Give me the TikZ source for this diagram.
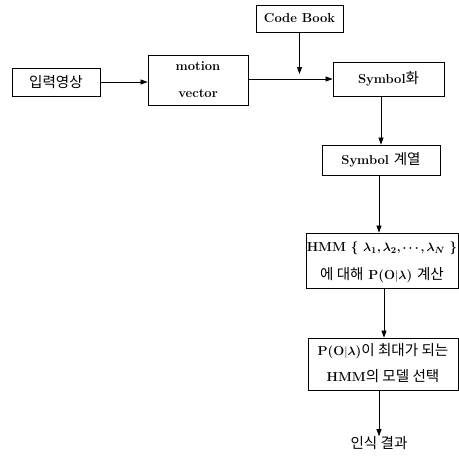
\documentclass[tikz,border=0pt]{standalone}
\usepackage{bm}
\usepackage{fontspec}
\newfontfamily\krfont{Noto Sans CJK KR}[Scale=1.12]
\newcommand{\kr}{\krfont\mdseries}
\usetikzlibrary{arrows.meta}
\begin{document}
\begin{tikzpicture}[x=1pt,y=-1pt,
  box/.style={draw, line width=0.8pt, inner sep=0pt},
  lbl/.style={inner sep=0pt, font=\fontsize{13}{15}\selectfont\bfseries},
  arr/.style={-{Triangle[length=7pt,width=5pt]}, line width=0.7pt}]
\useasboundingbox (0,0) rectangle (459,458);
% boxes
\node[box, minimum width=88, minimum height=28] (in) at (56,82) {};
\node[lbl] (inT) at (in.center) {\kr 입력영상};
\node[box, minimum width=100, minimum height=50] (mv) at (198,80) {};
\node[lbl] (mvA) at (198,66) {motion};
\node[lbl] (mvB) at (198,93) {vector};
\node[box, minimum width=87, minimum height=27] (cb) at (299.5,18.5) {};
\node[lbl] (cbT) at (cb.center) {Code Book};
\node[box, minimum width=111, minimum height=34] (sym) at (388.5,79) {};
\node[lbl] (symT) at (sym.center) {Symbol{\kr 화}};
\node[box, minimum width=118, minimum height=30] (seq) at (381,160) {};
\node[lbl] (seqT) at (seq.center) {Symbol {\kr 계열}};
\node[box, minimum width=152, minimum height=55] (hmm) at (382,260.5) {};
\node[lbl] (hmmA) at (382,248) {HMM \{ $\bm{\lambda_1,\lambda_2,\cdots,\lambda_N}$ \}};
\node[lbl] (hmmB) at (382,275) {{\kr 에 대해} P(O$|\bm{\lambda}$) {\kr 계산}};
\node[box, minimum width=150, minimum height=52] (sel) at (383,364) {};
\node[lbl] (selA) at (383,351) {P(O$|\bm{\lambda}$){\kr 이 최대가 되는}};
\node[lbl] (selB) at (383,376) {HMM{\kr 의 모델 선택}};
\node[lbl] (res) at (379,443) {\kr 인식 결과};
% junction for code book
\coordinate (j) at (cb.south |- 0,74);
% connectors
\draw[arr] (in.east) -- (mv.west |- in.east);
\draw[arr] (mv.east |- sym.west) -- (sym.west);
\draw[arr] (cb.south) -- (j);
\draw[arr] (sym.south -| seq.north) -- (seq.north);
\draw[arr] (seq.south -| 379,0) -- (hmm.north -| 379,0);
\draw[arr] (hmm.south -| 384,0) -- (sel.north -| 384,0);
\draw[arr] (sel.south -| 379,0) -- (res.north -| 379,0);
\end{tikzpicture}
\end{document}
